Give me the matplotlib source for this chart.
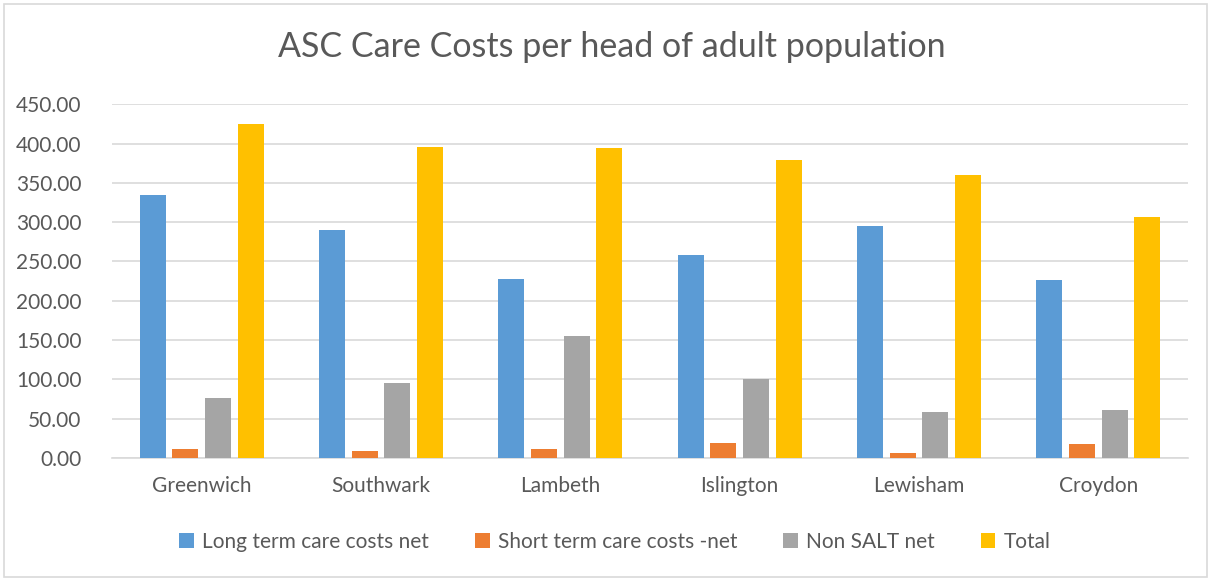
import matplotlib.pyplot as plt
import numpy as np
from matplotlib.patches import Rectangle

plt.rcParams["font.family"] = ["Lato", "DejaVu Sans"]

boroughs = ["Greenwich", "Southwark", "Lambeth", "Islington", "Lewisham",
            "Croydon"]
long_term = [334.5, 290.0, 227.5, 258.8, 294.8, 226.0]
short_term = [12.0, 9.0, 11.5, 19.0, 6.4, 18.3]
non_salt = [76.7, 95.5, 155.0, 100.5, 58.5, 60.7]
total = [424.6, 395.0, 394.5, 378.7, 360.5, 306.0]

series = [("Long term care costs net", long_term, "#5B9BD5"),
          ("Short term care costs -net", short_term, "#ED7D31"),
          ("Non SALT net", non_salt, "#A5A5A5"),
          ("Total", total, "#FFC000")]

text_col = "#595959"

fig = plt.figure(figsize=(12.11, 5.79), dpi=100)
fig.patches.append(Rectangle((0.003, 0.004), 0.994, 0.989,
                             transform=fig.transFigure, fill=False,
                             edgecolor="#D9D9D9", linewidth=1.2))
ax = fig.add_axes([0.0925, 0.209, 0.8885, 0.611])

x = np.arange(len(boroughs))
width = 0.145
step = 0.182
for i, (label, vals, col) in enumerate(series):
    ax.bar(x + (i - 1.5) * step, vals, width, color=col, label=label,
           zorder=3)

ax.set_xlim(-0.5, len(boroughs) - 0.5)
ax.set_ylim(0, 450)
ax.set_yticks(np.arange(0, 451, 50))
ax.set_yticklabels(["%.2f" % v for v in np.arange(0, 451, 50)])
ax.set_xticks(x)
ax.set_xticklabels(boroughs)
ax.grid(axis="y", color="#D9D9D9", linewidth=1.2, zorder=0)
for s in ["top", "right", "left"]:
    ax.spines[s].set_visible(False)
ax.spines["bottom"].set_color("#D9D9D9")
ax.spines["bottom"].set_linewidth(1.2)
ax.tick_params(axis="both", length=0, labelsize=15, colors=text_col)
ax.tick_params(axis="y", pad=22)
ax.tick_params(axis="x", pad=13)

fig.text(0.505, 0.918, "ASC Care Costs per head of adult population",
         ha="center", va="center", fontsize=24.5, color=text_col)

ax.legend(loc="center", bbox_to_anchor=(0.4675, -0.237),
          ncol=4, frameon=False, fontsize=15, handlelength=0.7,
          handleheight=0.7, handletextpad=0.4, columnspacing=2.2,
          labelcolor=text_col)

fig.savefig("out.png", dpi=100)
